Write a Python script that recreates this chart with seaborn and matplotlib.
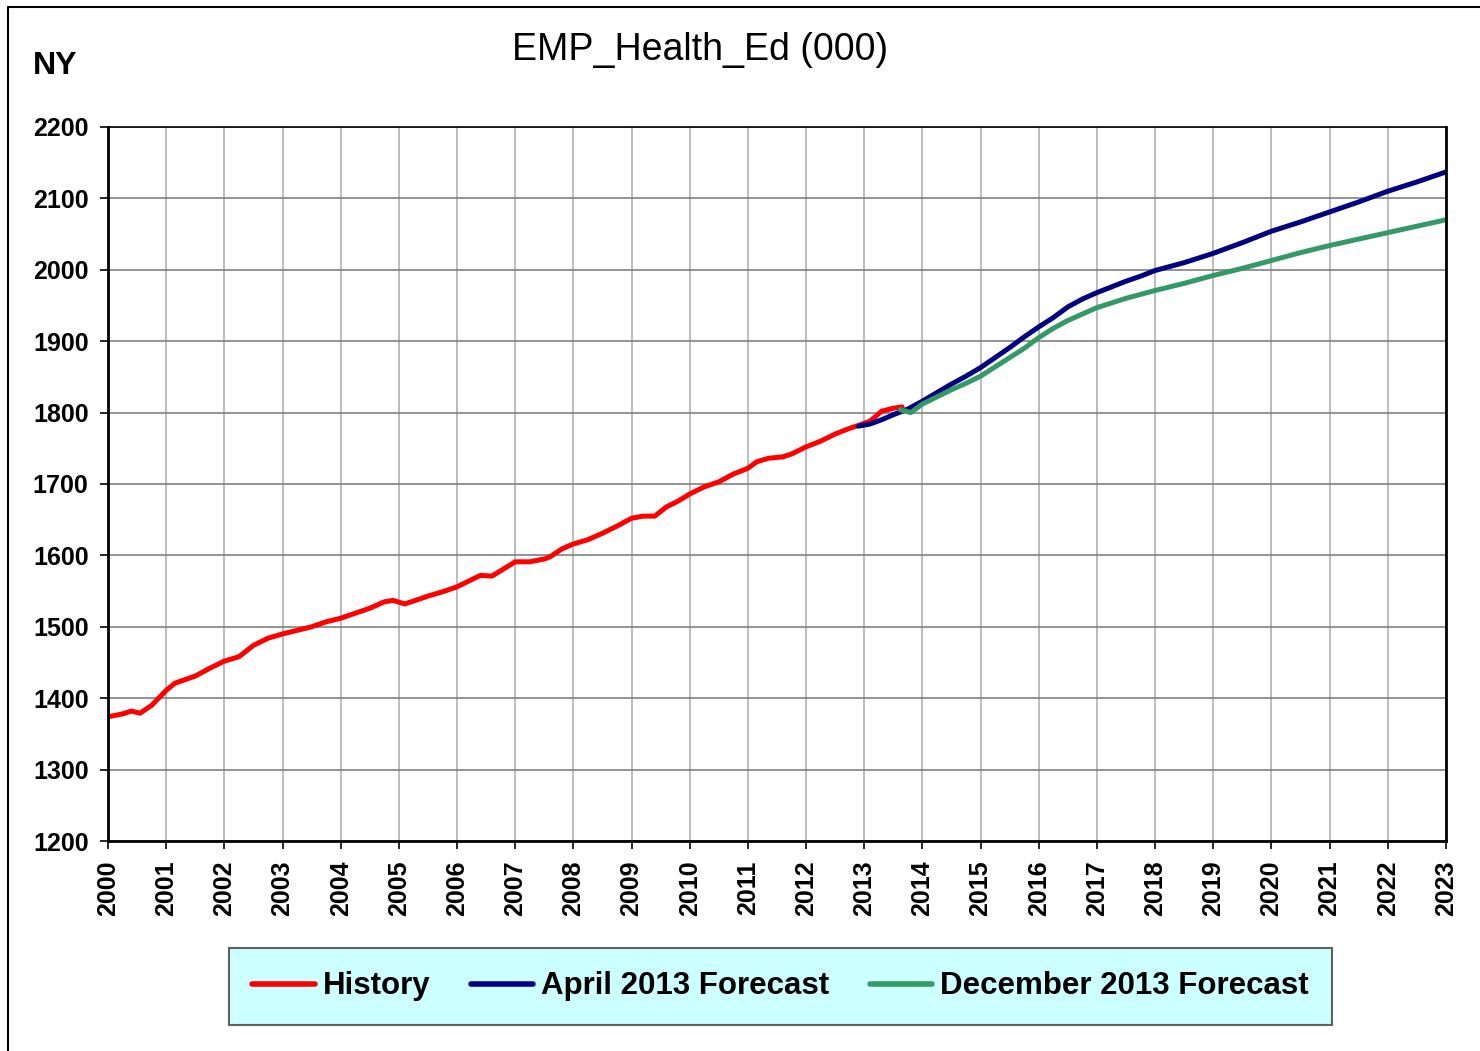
import pandas as pd
import seaborn as sns
import matplotlib
matplotlib.use('Agg')
import matplotlib.pyplot as plt
from matplotlib.lines import Line2D

# History (decimal years)
hist_year = [2000.0, 2000.25, 2000.4, 2000.55, 2000.75, 2001.0, 2001.15, 2001.5, 2001.75,
             2002.0, 2002.25, 2002.5, 2002.75, 2003.0, 2003.25, 2003.5, 2003.75, 2004.0,
             2004.25, 2004.5, 2004.75, 2004.9, 2005.1, 2005.25, 2005.5, 2005.75, 2006.0,
             2006.25, 2006.4, 2006.6, 2006.8, 2007.0, 2007.25, 2007.5, 2007.6, 2007.8,
             2008.0, 2008.25, 2008.5, 2008.75, 2009.0, 2009.2, 2009.4, 2009.6, 2009.8,
             2010.0, 2010.25, 2010.5, 2010.75, 2011.0, 2011.15, 2011.35, 2011.6, 2011.75,
             2012.0, 2012.25, 2012.5, 2012.75, 2012.9, 2013.1, 2013.3, 2013.5, 2013.65]
hist_val = [1374, 1378, 1382, 1379, 1390, 1411, 1421, 1431, 1442,
            1452, 1458, 1474, 1484, 1490, 1495, 1500, 1507, 1512,
            1519, 1526, 1535, 1537, 1532, 1536, 1543, 1549, 1556,
            1566, 1572, 1571, 1581, 1591, 1591, 1595, 1598, 1609,
            1616, 1622, 1631, 1641, 1652, 1655, 1655, 1668, 1676,
            1686, 1696, 1703, 1714, 1722, 1731, 1736, 1738, 1742,
            1752, 1760, 1770, 1778, 1782, 1788, 1802, 1806, 1808]

# April 2013 forecast
apr_year = [2012.9, 2013.1, 2013.3, 2013.5, 2013.75, 2014.0, 2014.25, 2014.5, 2014.75,
            2015.0, 2015.25, 2015.5, 2015.75, 2016.0, 2016.25, 2016.5, 2016.75, 2017.0,
            2017.25, 2017.5, 2017.75, 2018.0, 2018.5, 2019.0, 2019.5, 2020.0, 2020.5,
            2021.0, 2021.5, 2022.0, 2022.5, 2023.0]
apr_val = [1781, 1784, 1790, 1797, 1805, 1816, 1828, 1840, 1851,
           1863, 1877, 1891, 1906, 1920, 1933, 1948, 1959, 1968,
           1976, 1984, 1991, 1999, 2010, 2023, 2038, 2054, 2067,
           2081, 2095, 2110, 2123, 2137]

# December 2013 forecast
dec_year = [2013.62, 2013.8, 2014.0, 2014.25, 2014.5, 2014.75, 2015.0, 2015.25, 2015.5,
            2015.75, 2016.0, 2016.25, 2016.5, 2016.75, 2017.0, 2017.5, 2018.0, 2018.5,
            2019.0, 2019.5, 2020.0, 2020.5, 2021.0, 2021.5, 2022.0, 2022.5, 2023.0]
dec_val = [1804, 1800, 1812, 1822, 1832, 1841, 1851, 1864, 1877,
           1890, 1905, 1918, 1929, 1938, 1947, 1960, 1971, 1981,
           1992, 2002, 2013, 2024, 2034, 2043, 2052, 2061, 2070]

years = list(range(2000, 2024))

df = pd.concat([
    pd.DataFrame({'year': hist_year, 'value': hist_val, 'series': 'History'}),
    pd.DataFrame({'year': apr_year, 'value': apr_val, 'series': 'April 2013 Forecast'}),
    pd.DataFrame({'year': dec_year, 'value': dec_val, 'series': 'December 2013 Forecast'}),
])

sns.set_style('white')
plt.rcParams['font.family'] = ['Liberation Sans', 'DejaVu Sans']
plt.rcParams['text.color'] = 'black'
plt.rcParams['xtick.color'] = 'black'
plt.rcParams['ytick.color'] = 'black'

fig = plt.figure(figsize=(14.8, 10.51), dpi=100)
ax = fig.add_axes([0.073, 0.1998, 0.904, 0.6794])

colors = {'History': '#ff0000', 'April 2013 Forecast': '#000080',
          'December 2013 Forecast': '#339966'}
sns.lineplot(data=df, x='year', y='value', hue='series', palette=colors,
             linewidth=3.6, ax=ax, legend=False, sort=False, estimator=None)

ax.set_xlim(2000, 2023)
ax.set_ylim(1200, 2200)
ax.set_xticks(years)
ax.set_xticklabels([str(y) for y in years], rotation=90, fontsize=18, fontweight='bold')
ax.set_yticks(range(1200, 2201, 100))
ax.set_yticklabels([str(v) for v in range(1200, 2201, 100)], fontsize=18, fontweight='bold')
ax.set_xlabel('')
ax.set_ylabel('')
ax.tick_params(axis='both', direction='out', length=6, width=1.2, color='black', pad=8,
               left=True, bottom=True)

for x in years:
    ax.axvline(x, color='#b0b0b0', linewidth=1.2, zorder=0)
for v in range(1200, 2201, 100):
    ax.axhline(v, color='#808080', linewidth=1.2, zorder=0)

for side in ['left', 'bottom', 'right', 'top']:
    ax.spines[side].set_color('black')
    ax.spines[side].set_visible(True)
ax.spines['left'].set_linewidth(2)
ax.spines['right'].set_linewidth(2)
ax.spines['bottom'].set_linewidth(2)
ax.spines['top'].set_linewidth(1.2)

fig.text(0.473, 0.952, 'EMP_Health_Ed (000)', fontsize=27, ha='center', va='center')
fig.text(0.022, 0.937, 'NY', fontsize=23, fontweight='bold', ha='left', va='center')

handles = [Line2D([0], [0], color=colors[k], linewidth=4) for k in colors]
leg = fig.legend(handles, list(colors.keys()), loc='center', bbox_to_anchor=(0.5274, 0.0614),
                 ncol=3, frameon=True, fancybox=False, framealpha=1,
                 prop={'size': 22.5, 'weight': 'bold'}, handlelength=2.0, handletextpad=0.25,
                 columnspacing=1.3, borderpad=0.75)
leg.get_frame().set_facecolor('#ccffff')
leg.get_frame().set_edgecolor('#606060')
leg.get_frame().set_linewidth(1.5)

# outer chart border (left and top edges visible)
fig.add_artist(Line2D([0.0054, 0.0054], [0.0, 0.9933], transform=fig.transFigure,
                      color='black', linewidth=1.5))
fig.add_artist(Line2D([0.0054, 1.0], [0.9933, 0.9933], transform=fig.transFigure,
                      color='black', linewidth=1.5))

fig.savefig('out.png', dpi=100)
